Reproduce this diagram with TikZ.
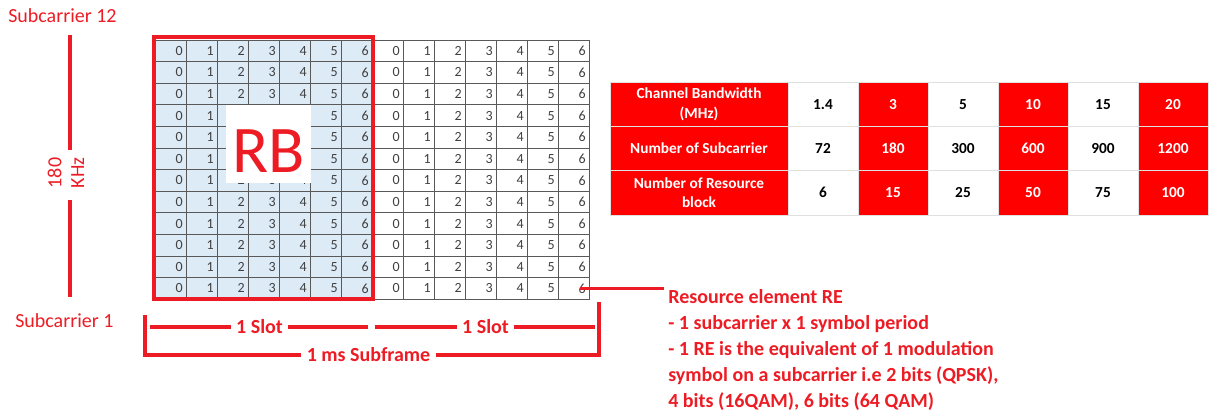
\documentclass[tikz,border=0pt]{standalone}
\usepackage{fontspec}
\setmainfont{Carlito}
\definecolor{lred}{RGB}{237,28,36}
\definecolor{tred}{RGB}{255,0,0}
\definecolor{rbblue}{RGB}{221,235,247}
\tikzset{
  cell/.style={draw=black!65,line width=0.5pt,minimum width=23.25pt,minimum height=16.2pt,inner sep=0pt,
    text width=18.5pt,align=right,text=black!75,font=\fontsize{10.5}{12}\selectfont},
  redbar/.style={lred,line width=2.7pt},
  redtext/.style={text=lred,font=\fontsize{15}{17}\selectfont,inner sep=0pt},
  boldtext/.style={text=lred,font=\fontsize{15}{17}\selectfont\bfseries,inner sep=4pt},
  tcell/.style={draw=black!12,line width=0.6pt,minimum width=52.5pt,minimum height=33.25pt,inner sep=0pt,
    align=center,font=\fontsize{11.5}{14.5}\selectfont\bfseries},
  hcell/.style={tcell,fill=tred,text=white,minimum width=133.5pt},
}
\begin{document}
\begin{tikzpicture}[x=0.75pt,y=-0.75pt]
  \useasboundingbox (0,0) rectangle (1210,413);
  % resource grid
  \foreach \r in {0,...,11}
    \foreach \c in {0,...,13}{
      \pgfmathtruncatemacro{\d}{mod(\c,7)}
      \ifnum\c<7 \def\f{rbblue}\else\def\f{white}\fi
      \pgfmathtruncatemacro{\hid}{(\r>2)&&(\r<6)&&(\c>1)&&(\c<5)}
      \ifnum\hid=1 \def\d{}\fi
      \node[cell,fill=\f] (c-\r-\c) at ({170.5+31*\c},{50.8+21.6*\r}) {\d};
    }
  \fill[white] (226,105) rectangle (311,183);
  \node[text=lred,inner sep=0pt,font=\fontsize{50}{50}\selectfont] (rb) at (268.5,151) {RB};
  \draw[lred,line width=3pt] (153.5,37.5) rectangle (372.5,299.5);
  % frequency axis
  \node[redtext,anchor=base west] (sc12) at (8,23) {Subcarrier 12};
  \node[redtext,anchor=base west] (sc1) at (15,327) {Subcarrier 1};
  \node[redtext,rotate=90,align=center] (khz) at (66,173) {180\\KHz};
  \coordinate (ftop) at (70,35);
  \coordinate (fbot) at (70,297);
  \draw[redbar] (ftop) -- (70,150);
  \draw[redbar] (70,200) -- (fbot);
  % time axis
  \node[boldtext] (slotA) at (259.5,327) {1 Slot};
  \node[boldtext] (slotB) at (485.5,327) {1 Slot};
  \node[boldtext] (subf) at (368.5,355) {1 ms Subframe};
  \coordinate (sa) at (150,327);
  \coordinate (sb) at (368,327);
  \coordinate (sc) at (375,327);
  \coordinate (sd) at (595,327);
  \coordinate (lt) at (145,315);
  \coordinate (rt) at (599,302);
  \draw[redbar] (sa) -- (slotA);
  \draw[redbar] (slotA) -- (sb);
  \draw[redbar] (sc) -- (slotB);
  \draw[redbar] (slotB) -- (sd);
  \draw[redbar] (lt) |- (subf);
  \draw[redbar] (subf) -| (rt);
  % resource element
  \coordinate (reend) at (657,289);
  \draw[lred,line width=2.3pt] ([xshift=5pt]c-11-13.center) -- ([xshift=5pt]c-11-13.center -| reend);
  \foreach \t [count=\i from 0] in {Resource element RE, - 1 subcarrier x 1 symbol period,
      - 1 RE is the equivalent of 1 modulation, {symbol on a subcarrier i.e 2 bits (QPSK),},
      {4 bits (16QAM), 6 bits (64 QAM)}}
    \node[boldtext,inner sep=0pt,anchor=base west] (re\i) at (668,{304+25.8*\i}) {\t};
  % bandwidth table
  \foreach \t [count=\i from 0] in {{Channel Bandwidth\\(MHz)}, Number of Subcarrier, {Number of Resource\\block}}
    \node[hcell] (h\i) at (699,{104.2+44.33*\i}) {\t};
  \foreach \a/\b/\e [count=\j from 0] in {1.4/72/6, 3/180/15, 5/300/25, 10/600/50, 15/900/75, 20/1200/100}{
    \ifodd\j \def\f{tred}\def\g{white}\else\def\f{white}\def\g{black}\fi
    \node[tcell,fill=\f,text=\g] (bw\j) at ({823+70*\j},104.2) {\a};
    \node[tcell,fill=\f,text=\g] (ns\j) at ({823+70*\j},148.5) {\b};
    \node[tcell,fill=\f,text=\g] (nb\j) at ({823+70*\j},192.8) {\e};
  }
\end{tikzpicture}
\end{document}
